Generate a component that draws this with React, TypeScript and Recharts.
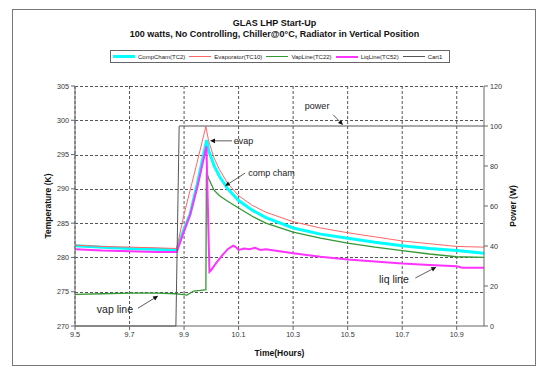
import React from "react";
import {
  CartesianGrid,
  ComposedChart,
  Line,
  ReferenceDot,
  ReferenceLine,
  XAxis,
  YAxis,
} from "recharts";

// time (hours) and temperature (K), one pair of arrays per series
const compChamTime = [9.5, 9.6, 9.7, 9.8, 9.873, 9.897, 9.922, 9.95, 9.983, 9.99, 10.01, 10.03, 10.06, 10.1, 10.15, 10.2, 10.3, 10.4, 10.5, 10.6, 10.7, 10.8, 10.9, 11.0];
const compChamTemp = [281.7, 281.5, 281.3, 281.2, 281.1, 283.8, 286.3, 291.0, 297.1, 295.6, 293.4, 291.8, 290.0, 288.3, 286.9, 285.8, 284.3, 283.4, 282.8, 282.2, 281.7, 281.3, 281.0, 280.6];

const evapTime = [9.5, 9.6, 9.7, 9.8, 9.873, 9.9, 9.94, 9.98, 9.99, 10.01, 10.03, 10.06, 10.1, 10.15, 10.2, 10.3, 10.4, 10.5, 10.6, 10.7, 10.8, 10.9, 11.0];
const evapTemp = [281.8, 281.6, 281.5, 281.4, 281.3, 286.3, 292.6, 299.1, 297.0, 294.5, 292.8, 290.8, 289.0, 287.6, 286.6, 285.2, 284.3, 283.6, 283.0, 282.4, 282.0, 281.6, 281.5];

const vapTime = [9.5, 9.6, 9.7, 9.8, 9.87, 9.89, 9.91, 9.935, 9.96, 9.98, 9.982, 9.99, 10.01, 10.03, 10.06, 10.1, 10.15, 10.2, 10.3, 10.4, 10.5, 10.6, 10.7, 10.8, 10.9, 11.0];
const vapTemp = [274.6, 274.7, 274.8, 274.8, 274.7, 274.6, 274.5, 275.1, 275.2, 275.3, 292.5, 291.5, 289.8, 289.0, 288.2, 287.2, 286.0, 285.0, 283.7, 282.8, 282.1, 281.5, 281.0, 280.5, 280.1, 280.0];

const liqTime = [9.5, 9.6, 9.7, 9.8, 9.873, 9.897, 9.922, 9.95, 9.982, 9.993, 10.0, 10.02, 10.04, 10.06, 10.08, 10.09, 10.1, 10.12, 10.14, 10.16, 10.18, 10.2, 10.25, 10.3, 10.4, 10.5, 10.6, 10.7, 10.8, 10.9, 10.92, 11.0];
const liqTemp = [281.2, 281.0, 280.9, 280.8, 280.8, 283.5, 286.2, 290.5, 296.2, 277.9, 278.2, 279.3, 280.3, 281.2, 281.7, 281.5, 281.1, 281.3, 281.2, 281.4, 281.1, 281.2, 280.9, 280.6, 280.1, 279.7, 279.4, 279.1, 278.9, 278.7, 278.5, 278.5];

// heater power (W), right axis
const powerTime = [9.5, 9.87, 9.882, 11.0];
const powerWatts = [0, 0, 100, 100];

const timeTicks = [9.5, 9.7, 9.9, 10.1, 10.3, 10.5, 10.7, 10.9];
const tempTicks = [270, 275, 280, 285, 290, 295, 300, 305];
const powerTicks = [0, 20, 40, 60, 80, 100, 120];

const zip = (t: number[], v: number[]) => t.map((x, i) => ({ t: x, v: v[i] }));

const FONT = "'Liberation Sans', Arial, sans-serif";

const series = [
  { name: "CompCham(TC2)", color: "#00FFFF", width: 3, data: zip(compChamTime, compChamTemp), axis: "T" },
  { name: "Evaporator(TC10)", color: "#FF6666", width: 1, data: zip(evapTime, evapTemp), axis: "T" },
  { name: "VapLine(TC22)", color: "#339933", width: 1.3, data: zip(vapTime, vapTemp), axis: "T" },
  { name: "LiqLine(TC52)", color: "#FF33FF", width: 2, data: zip(liqTime, liqTemp), axis: "T" },
  { name: "Cart1", color: "#555555", width: 1, data: zip(powerTime, powerWatts), axis: "P" },
];

// annotations: text spot and arrow (tail -> head), in data units
const notes = [
  { text: "power", x: 10.388, y: 302.1, size: 9, anchor: "middle", tail: [10.447, 300.8], head: [10.483, 299.3] },
  { text: "evap", x: 10.082, y: 297.0, size: 9, anchor: "start", tail: [10.076, 297.0], head: [9.995, 297.0] },
  { text: "comp cham", x: 10.135, y: 292.4, size: 9, anchor: "start", tail: [10.124, 292.3], head: [10.05, 290.4] },
  { text: "vap line", x: 9.58, y: 272.5, size: 10.5, anchor: "start", tail: [9.731, 272.6], head: [9.805, 274.4] },
  { text: "liq line", x: 10.615, y: 276.85, size: 10.5, anchor: "start", tail: [10.748, 277.0], head: [10.825, 278.6] },
];

const arrowShape = (p: any) => {
  const { x1, y1, x2, y2 } = p;
  const a = Math.atan2(y2 - y1, x2 - x1);
  const L = 5;
  const W = 2.3;
  const bx = x2 - L * Math.cos(a);
  const by = y2 - L * Math.sin(a);
  const pts = [
    `${x2},${y2}`,
    `${bx - W * Math.sin(a)},${by + W * Math.cos(a)}`,
    `${bx + W * Math.sin(a)},${by - W * Math.cos(a)}`,
  ].join(" ");
  return (
    <g>
      <line x1={x1} y1={y1} x2={bx} y2={by} stroke="#333" strokeWidth={0.8} />
      <polygon points={pts} fill="#111" />
    </g>
  );
};

// dashed grid line, snapped to whole pixels so it stays sharp
const gridShape = (p: any) => (
  <line
    x1={p.x1}
    y1={Math.round(p.y1) + 0.5}
    x2={p.x2}
    y2={Math.round(p.y2) + 0.5}
    stroke="#555"
    strokeWidth={1}
    strokeDasharray="3 2"
  />
);

function LegendBox() {
  return (
    <div
      style={{
        position: "absolute",
        left: 110,
        top: 50,
        height: 11,
        border: "1px solid #666",
        display: "flex",
        alignItems: "center",
        padding: "0 3px 0 2px",
        fontFamily: FONT,
        fontSize: 6,
        color: "#222",
        background: "#fff",
        whiteSpace: "nowrap",
      }}
    >
      {series.map((s) => (
        <div key={s.name} style={{ display: "flex", alignItems: "center", marginRight: 4 }}>
          <div style={{ width: 22, height: s.width, background: s.color, marginRight: 3 }} />
          <span>{s.name}</span>
        </div>
      ))}
    </div>
  );
}

export default function App() {
  return (
    <div style={{ position: "absolute", left: 0, top: 0, width: 544, height: 373, background: "#fff" }}>
      <div
        style={{
          position: "absolute",
          left: 12,
          top: 9,
          width: 524,
          height: 357,
          border: "1px solid #777",
          boxSizing: "border-box",
        }}
      />
      <div
        style={{
          position: "absolute",
          left: 12,
          width: 525,
          top: 18,
          textAlign: "center",
          fontFamily: FONT,
          fontWeight: "bold",
          fontSize: 9,
          lineHeight: "11px",
          color: "#111",
        }}
      >
        <div>GLAS LHP Start-Up</div>
        <div>100 watts, No Controlling, Chiller@0°C, Radiator in Vertical Position</div>
      </div>
      <LegendBox />
      <div style={{ position: "absolute", left: 0, top: 0 }}>
        <ComposedChart width={544} height={373} margin={{ top: 86, right: 7, left: 12, bottom: 6 }}>
          <CartesianGrid
            horizontal={false}
            stroke="#555"
            strokeDasharray="3 2"
            strokeWidth={1}
            verticalValues={timeTicks}
          />
          <XAxis
            dataKey="t"
            type="number"
            domain={[9.5, 11]}
            ticks={timeTicks}
            allowDataOverflow
            height={41}
            stroke="#666"
            tickSize={4}
            tick={{ fill: "#333", fontSize: 7.2, fontFamily: FONT }}
            label={{ value: "Time(Hours)", position: "center", dy: 6, fill: "#111", fontSize: 8.5, fontWeight: "bold", fontFamily: FONT }}
          />
          <YAxis
            yAxisId="T"
            domain={[270, 305]}
            ticks={tempTicks}
            width={63}
            stroke="#666"
            tickSize={4}
            tick={{ fill: "#333", fontSize: 7.2, fontFamily: FONT }}
            label={{ value: "Temperature (K)", angle: -90, position: "center", dx: 4, fill: "#111", fontSize: 8.5, fontWeight: "bold", fontFamily: FONT }}
          />
          <YAxis
            yAxisId="P"
            orientation="right"
            domain={[0, 120]}
            ticks={powerTicks}
            width={53}
            stroke="#666"
            tickSize={4}
            tick={{ fill: "#333", fontSize: 7.2, fontFamily: FONT }}
            label={{ value: "Power (W)", angle: -90, position: "center", dx: 2, fill: "#111", fontSize: 8.5, fontWeight: "bold", fontFamily: FONT }}
          />
          {/* horizontal dashed grid on the temperature ticks */}
          {tempTicks.slice(1).map((v) => (
            <ReferenceLine key={"gy" + v} y={v} yAxisId="T" ifOverflow="visible" shape={gridShape} />
          ))}
          {series.map((s) => (
            <Line
              key={s.name}
              yAxisId={s.axis}
              data={s.data}
              dataKey="v"
              name={s.name}
              type="linear"
              stroke={s.color}
              strokeWidth={s.width}
              dot={false}
              isAnimationActive={false}
            />
          ))}
          {notes.map((n) => (
            <ReferenceLine
              key={"a" + n.text}
              yAxisId="T"
              segment={[
                { x: n.tail[0], y: n.tail[1] },
                { x: n.head[0], y: n.head[1] },
              ]}
              shape={arrowShape}
            />
          ))}
          {notes.map((n) => (
            <ReferenceDot
              key={"t" + n.text}
              yAxisId="T"
              x={n.x}
              y={n.y}
              r={0}
              shape={(p: any) => (
                <text
                  x={p.cx}
                  y={p.cy}
                  dy="0.35em"
                  textAnchor={n.anchor as any}
                  fontFamily={FONT}
                  fontSize={n.size}
                  fill="#222"
                >
                  {n.text}
                </text>
              )}
            />
          ))}
        </ComposedChart>
      </div>
    </div>
  );
}
